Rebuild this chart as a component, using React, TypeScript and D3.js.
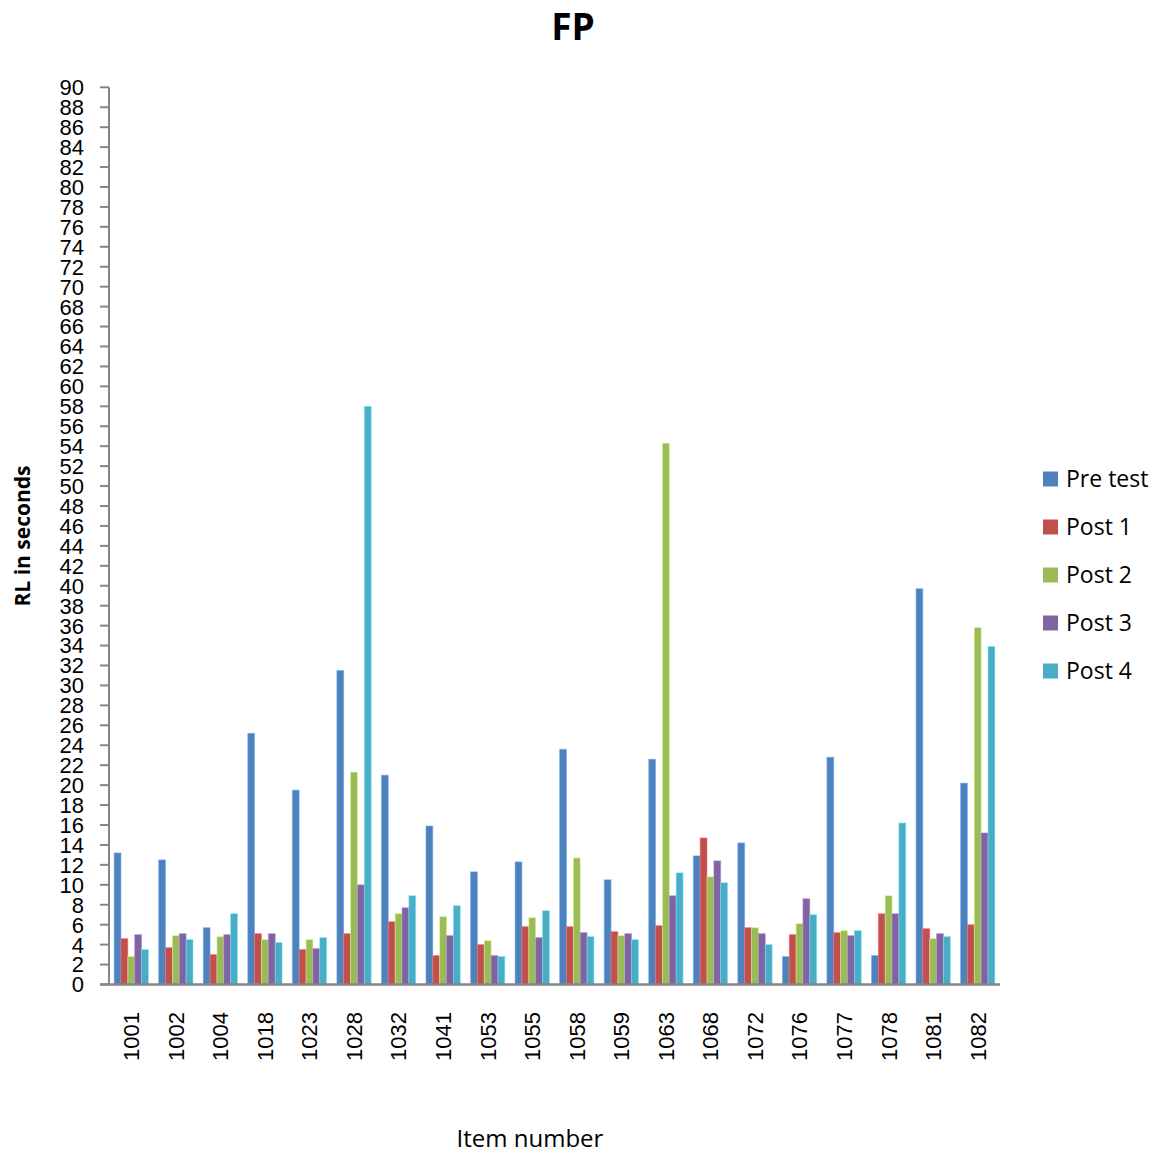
import React from "react";
import * as d3 from "d3";

const items = ["1001","1002","1004","1018","1023","1028","1032","1041","1053","1055","1058","1059","1063","1068","1072","1076","1077","1078","1081","1082"];
const seriesNames = ["Pre test","Post 1","Post 2","Post 3","Post 4"];
const preTest = [13.2,12.5,5.7,25.2,19.5,31.5,21.0,15.9,11.3,12.3,23.6,10.5,22.6,12.9,14.2,2.8,22.8,2.9,39.7,20.2];
const post1 = [4.6,3.7,3.0,5.1,3.5,5.1,6.3,2.9,4.0,5.8,5.8,5.3,5.9,14.7,5.7,5.0,5.2,7.1,5.6,6.0];
const post2 = [2.8,4.9,4.8,4.5,4.5,21.3,7.1,6.8,4.4,6.7,12.7,4.9,54.3,10.8,5.7,6.1,5.4,8.9,4.6,35.8];
const post3 = [5.0,5.1,5.0,5.1,3.6,10.0,7.7,4.9,2.9,4.7,5.2,5.1,8.9,12.4,5.1,8.6,4.9,7.1,5.1,15.2];
const post4 = [3.5,4.5,7.1,4.2,4.7,58.0,8.9,7.9,2.8,7.4,4.8,4.5,11.2,10.2,4.0,7.0,5.4,16.2,4.8,33.9];
const yTicks = d3.range(0, 91, 2);
const colors = ["#4F81BD","#C0504D","#9BBB59","#8064A2","#4BACC6"];

const allSeries = [preTest, post1, post2, post3, post4];

export default function App() {
  const W = 1161, H = 1155;
  const left = 109, right = 1000, top = 87.3, bottom = 984.5;
  const x0 = d3.scaleBand<string>().domain(items).range([left, right]).paddingInner(0.23).paddingOuter(0.115);
  const x1 = d3.scaleBand<string>().domain(seriesNames).range([0, x0.bandwidth()]).padding(0);
  const y = d3.scaleLinear().domain([0, 90]).range([bottom, top]);
  const axisColor = "#868686";
  const sans = "'Liberation Sans', Arial, sans-serif";
  const ui = "'Open Sans', sans-serif";

  return (
    <svg width={W} height={H} style={{ position: "absolute", left: 0, top: 0, background: "#fff" }}>
      <text x={573} y={40} textAnchor="middle" fontFamily={ui} fontWeight="bold" fontSize={37}>FP</text>

      {/* bars */}
      {items.map((it, i) => (
        <g key={it} transform={`translate(${x0(it)},0)`}>
          {allSeries.map((s, k) => (
            <rect key={k} x={x1(seriesNames[k])} y={y(s[i])} width={x1.bandwidth()} height={y(0) - y(s[i])}
              fill={colors[k]} stroke={d3.color(colors[k])!.brighter(0.9).toString()} strokeWidth={0.8} strokeOpacity={0.7} />
          ))}
        </g>
      ))}

      {/* y axis */}
      <line x1={left} x2={left} y1={top} y2={bottom} stroke={axisColor} strokeWidth={2} />
      {yTicks.map(t => (
        <g key={t}>
          <line x1={left - 9} x2={left} y1={y(t)} y2={y(t)} stroke={axisColor} strokeWidth={2} />
          <text x={84} y={y(t)} dy="0.36em" textAnchor="end" fontFamily={sans} fontSize={22}>{t}</text>
        </g>
      ))}
      {/* x axis */}
      <line x1={left - 9} x2={right} y1={bottom} y2={bottom} stroke={axisColor} strokeWidth={2.5} />
      {items.map(it => {
        const cx = (x0(it) as number) + x0.bandwidth() / 2;
        return (
          <text key={it} transform={`translate(${cx},1012) rotate(-90)`} textAnchor="end" dy="0.36em"
            fontFamily={sans} fontSize={22}>{it}</text>
        );
      })}

      <text transform="translate(30,536) rotate(-90)" textAnchor="middle" fontFamily={ui} fontWeight="bold" fontSize={21}>RL in seconds</text>
      <text x={530} y={1147} textAnchor="middle" fontFamily={ui} fontSize={24}>Item number</text>

      {/* legend */}
      {seriesNames.map((n, k) => (
        <g key={n} transform={`translate(1043,${479 + k * 48})`}>
          <rect x={0} y={-7.5} width={15} height={15} fill={colors[k]} />
          <text x={23} y={0} dy="0.36em" fontFamily={ui} fontSize={23}>{n}</text>
        </g>
      ))}
    </svg>
  );
}
